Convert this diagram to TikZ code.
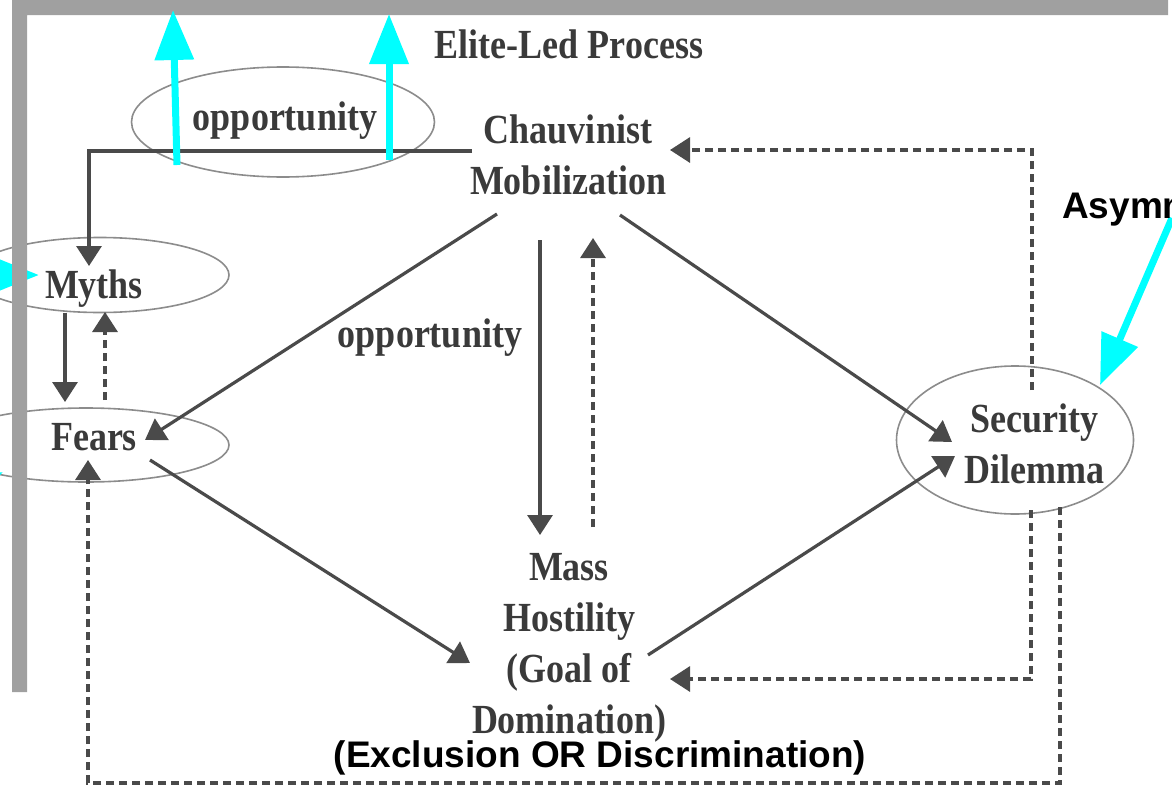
\documentclass[tikz,border=0pt]{standalone}
\usepackage{graphicx}
\usepackage{fontspec}
\setmainfont{Liberation Serif}
\newfontfamily\sansbf{Liberation Sans}
\usetikzlibrary{arrows.meta,shapes.geometric}
\definecolor{framegray}{HTML}{A0A0A0}
\definecolor{ink}{HTML}{3A3A3A}
\definecolor{conn}{HTML}{4A4A4A}
\definecolor{ellgray}{HTML}{8C8C8C}
\definecolor{cy}{HTML}{00FFFF}
\newcommand{\tall}[1]{\scalebox{1}[1.15]{#1}}
\tikzset{
  lbl/.style={anchor=base, inner sep=0pt, text=ink, font=\fontsize{36}{51}\selectfont\bfseries},
  ring/.style={ellipse, draw=ellgray, line width=1.6pt, inner sep=0pt},
  solidarrow/.style={draw=conn, line width=3.2pt, -{Triangle[length=20pt,width=25pt]}},
  dasharrow/.style={draw=conn, line width=3.2pt, dash pattern=on 8pt off 5pt, -{Triangle[length=20pt,width=25pt]}},
  cyanarrow/.style={draw=cy, line width=7pt, -{Triangle[length=50pt,width=38pt]}},
  note/.style={inner sep=0pt, text=black, font=\sansbf\bfseries\fontsize{37}{40}\selectfont},
}
\begin{document}
\begin{tikzpicture}[x=1pt,y=-1pt]
\useasboundingbox (0,0) rectangle (1172,795);
\clip (0,0) rectangle (1172,795);
\fill[white] (0,0) rectangle (1172,795);

% ellipses
\node[ring, minimum width=303pt, minimum height=110pt] (oppE) at (283,122) {};
\node[ring, minimum width=258pt, minimum height=75pt] (mythsE) at (100,275) {};
\node[ring, minimum width=286pt, minimum height=74pt] (fearsE) at (86,445) {};
\node[ring, minimum width=237pt, minimum height=148pt] (secE) at (1015,440) {};

% texts
\node[lbl] (elite) at (569,58) {\tall{Elite-Led Process}};
\node[lbl] (opp1) at (285,130) {\tall{opportunity}};
\node[lbl] (chauv) at (568,143) {\begin{tabular}[t]{@{}c@{}}\tall{Chauvinist}\\\tall{Mobilization}\end{tabular}};
\node[lbl] (myths) at (94,298) {\tall{Myths}};
\node[lbl] (fears) at (94,450) {\tall{Fears}};
\node[lbl] (opp2) at (430,347) {\tall{opportunity}};
\node[lbl] (sec) at (1034,432) {\begin{tabular}[t]{@{}c@{}}\tall{Security}\\\tall{Dilemma}\end{tabular}};
\node[lbl] (mass) at (569,580) {\begin{tabular}[t]{@{}c@{}}\tall{Mass}\\\tall{Hostility}\\\tall{(Goal of}\\\tall{Domination)}\end{tabular}};

% connector end points
\coordinate (cmL) at (472,151);
\coordinate (mythsTop) at (89,266);
\coordinate (mythsB1) at (65,313);
\coordinate (fearsT1) at (65,402);
\coordinate (fearsT2) at (105,400);
\coordinate (mythsB2) at (105,312);
\coordinate (cmSW) at (497,214);
\coordinate (fearsE) at (145,440);
\coordinate (fearsSE) at (150,460);
\coordinate (massNW) at (470,663);
\coordinate (cmS1) at (540,240);
\coordinate (massN1) at (540,535);
\coordinate (massN2) at (593,527);
\coordinate (cmS2) at (593,238);
\coordinate (cmSE) at (620,215);
\coordinate (secW1) at (952,442);
\coordinate (massNE) at (648,655);
\coordinate (secW2) at (955,456);
\coordinate (secTop) at (1032,390);
\coordinate (cmR) at (670,150);
\coordinate (secBot1) at (1031,510);
\coordinate (massR) at (670,679);
\coordinate (secBot2) at (1060,507);
\coordinate (fearsBot) at (88,460);

% solid connectors
\draw[solidarrow] (cmL) -| (mythsTop);
\draw[solidarrow] (mythsB1) -- (fearsT1);
\draw[solidarrow] (cmSW) -- (fearsE);
\draw[solidarrow] (fearsSE) -- (massNW);
\draw[solidarrow] (cmS1) -- (massN1);
\draw[solidarrow] (cmSE) -- (secW1);
\draw[solidarrow] (massNE) -- (secW2);

% dashed connectors
\draw[dasharrow] (fearsT2) -- (mythsB2);
\draw[dasharrow] (massN2) -- (cmS2);
\draw[dasharrow] (secTop) |- (cmR);
\draw[dasharrow] (secBot1) |- (massR);
\draw[dasharrow] (secBot2) -- (secBot2 |- 0,783) -- (fearsBot |- 0,783) -- (fearsBot);

% cyan arrows under the frame
\coordinate (cyL1) at (-40,275);
\coordinate (cyL2) at (-45,497);
\coordinate (cyT2) at (3,472);
\draw[cyanarrow] (cyL1) -- (mythsE.west -| 39,0);
\draw[cyanarrow] (cyL2) -- (cyT2);

% frame
\fill[framegray] (12,0) -- (1168,0) -- (1168,15) -- (27,15) -- (27,692) -- (12,692) -- cycle;

% cyan arrows over the frame
\coordinate (cyA1) at (177,165);
\coordinate (cyA1t) at (173,10);
\coordinate (cyA2) at (389,160);
\coordinate (cyA2t) at (389,14);
\draw[cyanarrow] (cyA1) -- (cyA1t);
\draw[cyanarrow] (cyA2) -- (cyA2t);
\coordinate (cyS) at (1172,218);
\coordinate (cySt) at (1100,385);
\draw[cyanarrow] (cyS) -- (cySt);

% annotations
\node[note, anchor=base west] (asym) at (1062,218) {Asymm};
\node[note, anchor=base] (excl) at (600,767) {(Exclusion OR Discrimination)};
\end{tikzpicture}
\end{document}
